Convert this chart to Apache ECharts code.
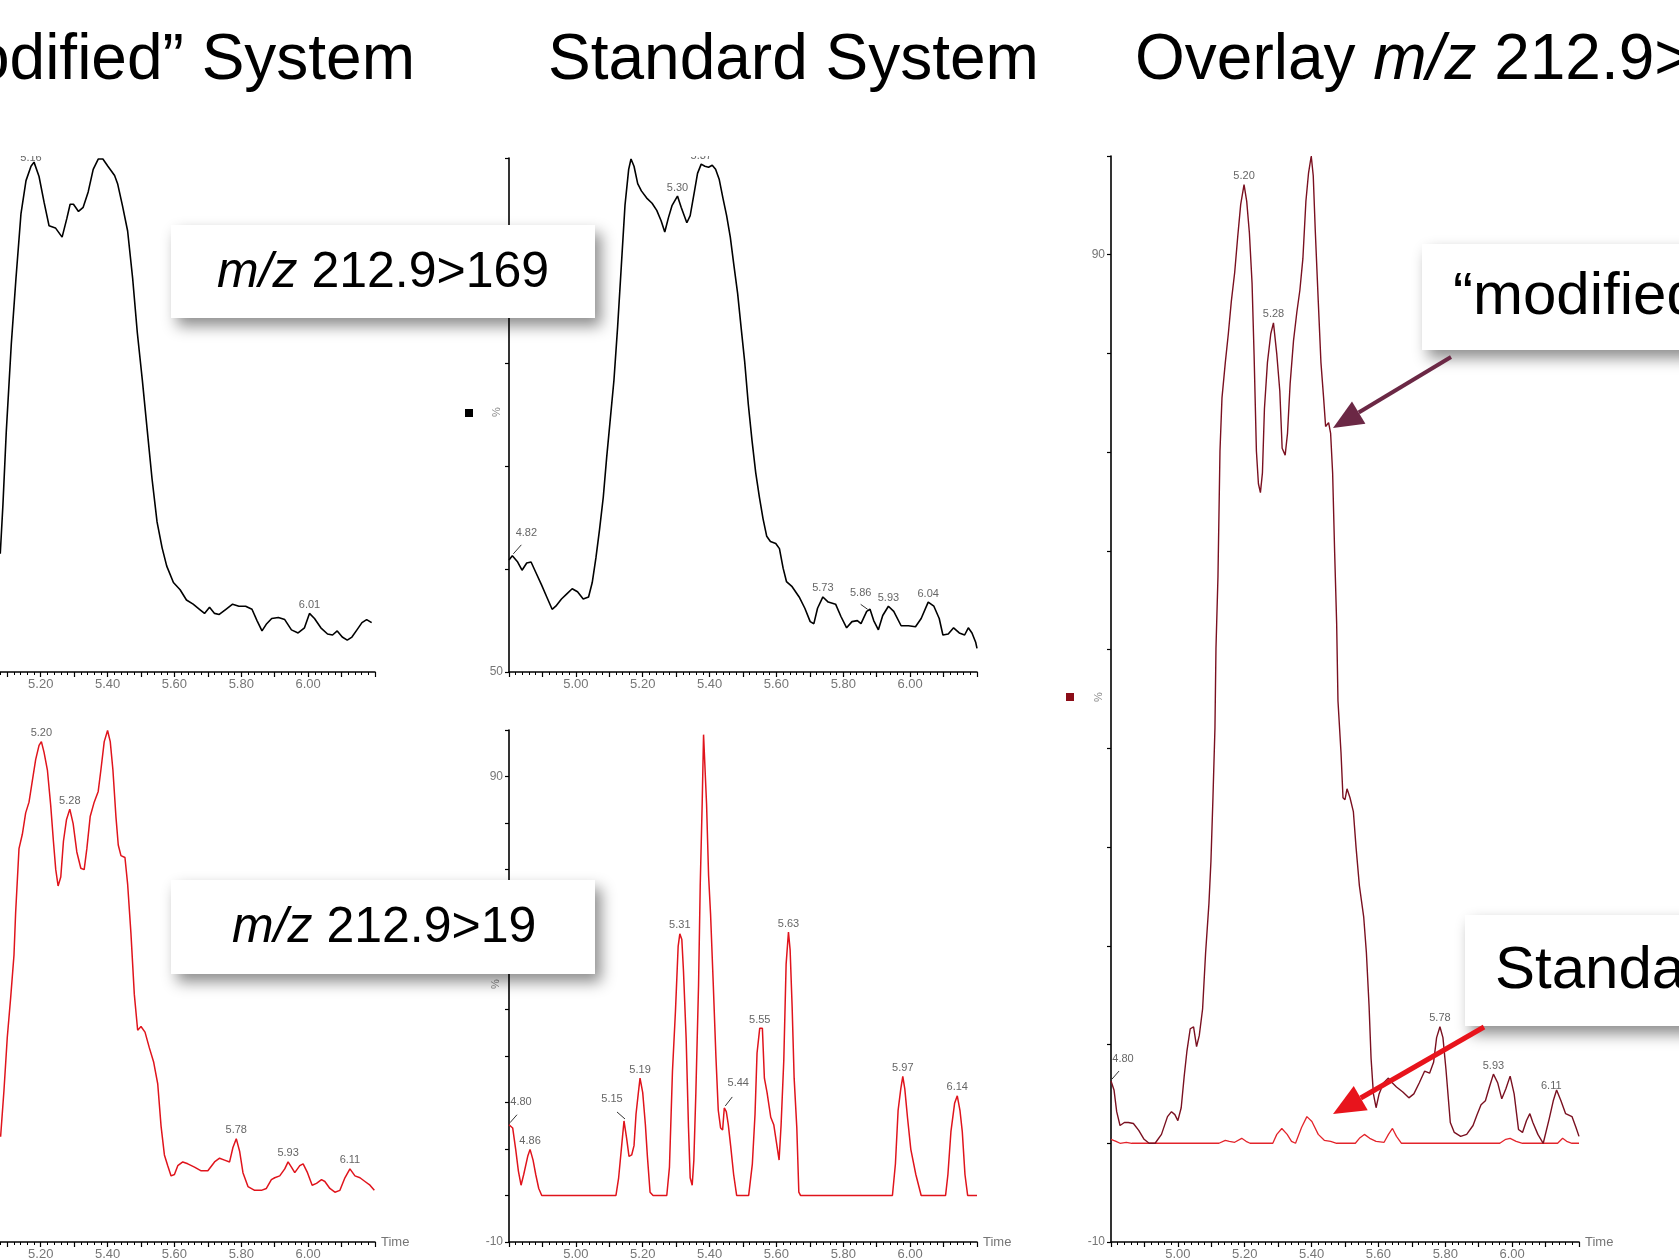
<!DOCTYPE html>
<html>
<head>
<meta charset="utf-8">
<title>Modified vs Standard System</title>
<script src="https://cdn.jsdelivr.net/npm/echarts@6/dist/echarts.min.js"></script>
<style>
  html, body { margin: 0; padding: 0; background: #fff; }
  #main { width: 1679px; height: 1259px; }
</style>
</head>
<body>
<div id="main"></div>
<script>
// ---- data (time in min, intensity in %) ----
// "modified" system, m/z 212.9>169 (top left)
var tlTime = [5.079,5.087,5.097,5.112,5.126,5.141,5.156,5.171,5.180,5.195,5.210,5.225,5.244,5.264,5.278,5.288,5.298,5.313,5.327,5.342,5.357,5.372,5.386,5.401,5.421,5.430,5.445,5.460,5.475,5.489,5.504,5.519,5.533,5.548,5.563,5.577,5.597,5.617,5.636,5.656,5.675,5.690,5.705,5.720,5.734,5.754,5.774,5.793,5.813,5.832,5.847,5.862,5.876,5.891,5.911,5.930,5.950,5.970,5.989,6.004,6.019,6.038,6.058,6.073,6.087,6.102,6.117,6.131,6.146,6.161,6.175,6.190];
var tlValue = [61.5,66.3,73.4,81.9,88.3,94.6,97.8,99.2,99.6,98.2,95.7,93.4,93.2,92.3,94.1,95.5,95.5,94.8,95.2,96.7,98.9,99.9,99.9,99.2,98.3,97.5,95.3,92.9,88.3,83.0,78.4,73.4,68.8,64.6,62.1,60.3,58.7,58.0,57.0,56.6,56.1,55.7,56.3,55.7,55.6,56.1,56.6,56.4,56.4,56.1,55.0,54.0,54.7,55.2,55.3,55.1,54.1,53.8,54.3,55.7,55.2,54.3,53.7,53.6,54.0,53.4,53.1,53.4,54.1,54.8,55.1,54.8];
var tlPeaks = ['5.16', '6.01'];

// standard system, m/z 212.9>169 (top middle)
var tmTime = [4.800,4.810,4.826,4.839,4.853,4.866,4.880,4.897,4.913,4.929,4.940,4.957,4.973,4.989,5.005,5.022,5.038,5.049,5.060,5.071,5.082,5.092,5.103,5.114,5.125,5.136,5.147,5.158,5.165,5.174,5.185,5.196,5.212,5.228,5.242,5.255,5.266,5.277,5.288,5.304,5.315,5.332,5.342,5.355,5.364,5.375,5.386,5.397,5.408,5.418,5.429,5.440,5.451,5.462,5.473,5.484,5.495,5.505,5.516,5.527,5.538,5.549,5.560,5.571,5.582,5.598,5.609,5.620,5.630,5.647,5.668,5.685,5.701,5.712,5.723,5.739,5.755,5.777,5.793,5.810,5.826,5.842,5.853,5.870,5.880,5.891,5.905,5.918,5.935,5.951,5.973,5.995,6.016,6.033,6.054,6.071,6.087,6.098,6.114,6.130,6.147,6.163,6.174,6.185,6.196,6.200];
var tmValue = [60.9,61.3,60.7,59.9,60.6,60.7,59.7,58.5,57.3,56.1,56.4,57.1,57.6,58.1,57.8,57.1,57.3,58.7,61.1,63.9,67.0,70.8,74.6,78.4,83.6,89.5,95.4,98.9,99.9,99.2,97.5,96.8,96.1,95.6,94.9,93.9,92.8,94.2,95.4,96.3,95.2,93.7,94.4,96.8,98.5,99.4,99.2,99.1,99.3,98.9,97.9,96.1,94.4,92.3,89.5,86.8,83.3,80.2,76.0,72.5,69.4,67.0,64.9,63.2,62.7,62.5,62.0,60.1,58.8,58.3,57.3,56.2,54.9,54.7,56.2,57.3,56.8,56.6,55.4,54.3,54.9,55.0,54.7,55.9,56.1,55.0,54.1,55.5,56.4,55.9,54.5,54.5,54.4,55.2,56.8,56.4,55.2,53.6,53.7,54.3,53.8,53.6,54.3,53.8,52.9,52.3];
var tmPeaks = ['4.82', '5.30', '5.37', '5.73', '5.86', '5.93', '6.04'];

// "modified" system, m/z 212.9>19 (bottom left)
var blTime = [5.080,5.090,5.100,5.110,5.120,5.125,5.135,5.145,5.155,5.165,5.175,5.185,5.195,5.202,5.210,5.220,5.230,5.238,5.245,5.252,5.260,5.268,5.277,5.287,5.297,5.308,5.320,5.330,5.338,5.348,5.360,5.372,5.380,5.390,5.400,5.408,5.416,5.425,5.432,5.440,5.452,5.460,5.470,5.480,5.490,5.500,5.512,5.525,5.538,5.550,5.560,5.570,5.580,5.590,5.600,5.610,5.625,5.640,5.660,5.680,5.700,5.720,5.735,5.750,5.765,5.775,5.785,5.795,5.805,5.820,5.840,5.860,5.875,5.890,5.900,5.915,5.930,5.940,5.950,5.960,5.975,5.985,5.998,6.012,6.025,6.040,6.050,6.065,6.080,6.095,6.110,6.125,6.140,6.155,6.170,6.185,6.198];
var blValue = [12.6,22.5,34.0,42.4,51.6,60.8,74.5,77.6,82.2,84.5,89.1,93.7,96.7,97.5,95.2,91.4,83.7,76.1,70.0,66.5,68.4,76.1,80.7,83.0,79.9,73.8,70.3,70.0,74.5,81.4,84.5,86.8,91.4,97.5,99.9,97.5,91.4,81.4,75.3,73.0,72.6,66.9,56.2,43.2,35.5,36.3,35.1,31.7,28.6,24.0,14.9,8.7,6.4,4.2,4.5,6.4,7.2,6.8,6.1,5.3,5.3,7.2,8.0,7.6,7.2,10.3,12.2,9.5,4.9,1.9,1.1,1.1,1.5,3.4,3.8,4.2,5.7,7.2,6.1,4.9,6.4,6.8,4.9,2.2,2.6,3.4,3.0,1.5,0.7,1.1,3.8,5.7,4.2,3.8,3.0,2.2,1.1];
var blPeaks = ['5.20', '5.28', '5.78', '5.93', '6.11'];

// standard system, m/z 212.9>19 (bottom middle)
var bmTime = [4.800,4.811,4.820,4.828,4.836,4.844,4.856,4.863,4.872,4.880,4.889,4.898,5.120,5.128,5.136,5.144,5.152,5.159,5.167,5.174,5.180,5.187,5.192,5.200,5.208,5.214,5.222,5.231,5.272,5.280,5.289,5.298,5.306,5.311,5.317,5.322,5.330,5.337,5.342,5.348,5.353,5.359,5.367,5.372,5.378,5.382,5.387,5.391,5.397,5.403,5.411,5.419,5.426,5.433,5.439,5.444,5.450,5.456,5.463,5.472,5.481,5.517,5.528,5.536,5.542,5.550,5.558,5.564,5.572,5.583,5.592,5.600,5.608,5.614,5.622,5.629,5.636,5.641,5.647,5.653,5.661,5.667,5.672,5.947,5.956,5.964,5.972,5.978,5.984,5.992,6.002,6.017,6.033,6.106,6.113,6.122,6.133,6.141,6.149,6.156,6.164,6.172,6.200];
var bmValue = [15.2,14.5,9.9,5.3,2.2,4.5,8.4,9.9,7.6,4.5,1.5,0,0,3.8,9.9,16.0,12.2,8.4,8.7,10.7,17.5,22.1,25.2,22.1,15.2,8.4,0.7,0,0,6.1,26.7,39.7,53.5,56.2,55.0,48.1,33.6,14.5,3.8,2.2,7.6,22.1,45.1,66.5,84.5,99.0,99.0,84.1,68.8,60.4,45.5,29.8,18.3,14.5,14.1,18.8,18.0,15.2,10.7,4.5,0,0,6.8,17.5,30.6,35.9,35.9,25.2,22.1,16.8,15.2,11.4,7.6,15.2,29.0,49.7,56.6,52.7,40.5,25.2,14.5,0.7,0,0,6.8,18.3,22.9,25.6,22.9,16.8,9.9,4.5,0,0,4.5,13.7,19.8,21.4,18.3,13.7,4.5,0,0];
var bmPeaks = ['4.80', '4.86', '5.15', '5.19', '5.31', '5.44', '5.55', '5.63', '5.97', '6.14'];

// overlay m/z 212.9>19 : modified (dark red) and standard (red)
var ovModTime = [4.800,4.809,4.817,4.827,4.840,4.852,4.867,4.883,4.899,4.914,4.932,4.951,4.969,4.981,4.991,5.000,5.010,5.019,5.027,5.037,5.047,5.056,5.064,5.074,5.083,5.093,5.099,5.105,5.111,5.114,5.120,5.126,5.132,5.142,5.151,5.160,5.170,5.179,5.188,5.198,5.206,5.214,5.222,5.228,5.235,5.241,5.247,5.253,5.259,5.268,5.278,5.286,5.296,5.305,5.312,5.321,5.328,5.336,5.346,5.356,5.365,5.374,5.383,5.391,5.399,5.405,5.411,5.420,5.428,5.436,5.442,5.451,5.457,5.463,5.469,5.475,5.479,5.488,5.494,5.500,5.506,5.515,5.525,5.533,5.543,5.556,5.564,5.572,5.578,5.585,5.593,5.602,5.615,5.630,5.642,5.654,5.673,5.691,5.706,5.722,5.738,5.753,5.765,5.774,5.784,5.793,5.802,5.815,5.827,5.846,5.864,5.883,5.895,5.907,5.920,5.932,5.944,5.957,5.969,5.981,5.994,6.006,6.019,6.031,6.043,6.053,6.062,6.077,6.093,6.111,6.123,6.133,6.146,6.160,6.179,6.191,6.200];
var ovModValue = [6.3,5.4,3.2,1.8,2.1,2.1,2.0,1.3,0.4,0,0,0.9,2.7,3.2,2.9,2.3,3.6,6.8,9.3,11.6,11.8,9.8,10.9,13.6,19.3,24.3,28.6,35.0,42.1,50.1,57.4,70.1,75.5,79.1,82.0,85.3,88.2,91.8,95.1,97.1,95.4,92.2,87.1,79.9,70.1,66.8,65.9,67.9,74.4,79.1,82.0,83.1,79.9,76.2,70.4,69.7,71.9,77.0,81.3,84.2,86.4,89.6,95.4,98.3,100.0,98.0,92.5,85.3,79.1,75.5,72.6,73.0,71.9,67.9,59.9,52.7,44.8,39.6,35.0,34.8,35.9,35.0,33.6,30.0,26.1,22.9,19.3,13.9,8.6,5.0,3.6,5.0,6.1,6.6,6.1,5.7,5.2,4.6,5.0,6.1,7.3,7.1,8.2,10.7,11.8,10.7,7.5,2.1,1.1,0.7,0.9,1.8,2.9,3.9,4.3,5.7,7.0,6.1,4.5,5.5,6.8,5.0,1.4,1.1,2.3,3.0,2.1,0.9,0,2.5,4.3,5.4,4.3,3.0,2.7,1.6,0.7];
var ovStdTime = [4.800,4.815,4.827,4.846,4.862,5.123,5.142,5.154,5.170,5.191,5.204,5.216,5.284,5.296,5.311,5.327,5.340,5.352,5.370,5.386,5.401,5.420,5.438,5.457,5.475,5.531,5.543,5.558,5.574,5.593,5.617,5.630,5.642,5.654,5.669,5.963,5.981,5.994,6.012,6.031,6.136,6.151,6.163,6.179,6.200];
var ovStdValue = [0.4,0.2,0,0.1,0,0,0.3,0.2,0.1,0.5,0.2,0,0,0.9,1.5,0.9,0.2,0,1.6,2.7,2.2,0.9,0.3,0.2,0,0,0.5,0.9,0.5,0.2,0.1,0.9,1.5,0.7,0,0,0.4,0.5,0.2,0,0,0.5,0.2,0,0];
var ovPeaks = ['4.80', '5.20', '5.28', '5.78', '5.93', '6.11'];

var FONT = '"Liberation Sans", Arial, sans-serif';
var GREY = '#767676';

function pairs(t, v) {
    return t.map(function (x, i) { return [x, v[i]]; });
}

// put a retention-time label on the highest point near that time
function peakMarks(times, vals, labels, offsets) {
    return labels.map(function (txt) {
        var t = parseFloat(txt), best = -1, i;
        for (i = 0; i < times.length; i++) {
            if (Math.abs(times[i] - t) <= 0.015 && (best < 0 || vals[i] > vals[best])) best = i;
        }
        if (best < 0) best = 0;
        var item = { name: txt, coord: [times[best], vals[best]] };
        if (offsets && offsets[txt]) item.label = { offset: offsets[txt] };
        return item;
    });
}

function xAxisFor(gi, withName) {
    return {
        type: 'value', gridIndex: gi, min: 4.8, max: 6.2, interval: 0.1,
        axisLine: { onZero: false, lineStyle: { color: '#000', width: 1.6 } },
        axisTick: { show: true, length: 5, lineStyle: { color: '#000', width: 1.2 } },
        minorTick: { show: true, splitNumber: 5, length: 3, lineStyle: { color: '#000', width: 1 } },
        splitLine: { show: false },
        minorSplitLine: { show: false },
        axisLabel: {
            color: GREY, fontSize: 13, fontFamily: FONT, margin: 6,
            formatter: function (v) {
                var k = Math.round(v * 10);
                return (k % 2 === 0 && k > 48 && k < 62) ? (k / 10).toFixed(2) : '';
            }
        },
        name: withName ? 'Time' : '', nameLocation: 'end', nameGap: 6,
        nameTextStyle: { color: GREY, fontSize: 13, fontFamily: FONT, verticalAlign: 'middle' }
    };
}

function yAxisFor(gi, min, max, shown, labels) {
    return {
        type: 'value', gridIndex: gi, min: min, max: max, interval: 10, show: shown,
        axisLine: { show: true, onZero: false, lineStyle: { color: '#000', width: 1.6 } },
        axisTick: { show: true, length: 4, lineStyle: { color: '#000', width: 1.2 } },
        splitLine: { show: false },
        axisLabel: {
            color: GREY, fontSize: 12, fontFamily: FONT, margin: 6,
            formatter: function (v) {
                var r = Math.round(v);
                return labels.indexOf(r) >= 0 ? String(r) : '';
            }
        }
    };
}

function trace(gi, times, vals, color, width, peaks, offsets) {
    return {
        type: 'line', xAxisIndex: gi, yAxisIndex: gi,
        data: pairs(times, vals),
        showSymbol: false, symbol: 'none', silent: true,
        lineStyle: { color: color, width: width },
        markPoint: peaks ? {
            symbol: 'circle', symbolSize: 2, silent: true, animation: false,
            itemStyle: { color: 'rgba(0,0,0,0)' },
            label: { show: true, position: 'top', distance: 2, color: '#666', fontSize: 11, fontFamily: FONT, formatter: '{b}' },
            data: peakMarks(times, vals, peaks, offsets)
        } : undefined
    };
}

function arrow(x1, y1, x2, y2, color, w, headLen, headHalf) {
    var dx = x2 - x1, dy = y2 - y1, L = Math.sqrt(dx * dx + dy * dy);
    var ux = dx / L, uy = dy / L;
    var bx = x2 - ux * headLen, by = y2 - uy * headLen;
    return [
        { type: 'line', z: 80, shape: { x1: x1, y1: y1, x2: bx, y2: by }, style: { stroke: color, lineWidth: w } },
        { type: 'polygon', z: 80, shape: { points: [[x2, y2], [bx - uy * headHalf, by + ux * headHalf], [bx + uy * headHalf, by - ux * headHalf]] }, style: { fill: color } }
    ];
}

function box(x, y, w, h, tx, ty, text, size) {
    return [
        { type: 'rect', z: 70, shape: { x: x, y: y, width: w, height: h },
          style: { fill: '#fff', shadowBlur: 14, shadowOffsetX: 6, shadowOffsetY: 8, shadowColor: 'rgba(0,0,0,0.45)' } },
        { type: 'text', z: 71, x: tx, y: ty,
          style: { text: text, fill: '#000', fontSize: size, fontFamily: FONT, verticalAlign: 'middle',
                   rich: { i: { fontStyle: 'italic', fontSize: size, fontFamily: FONT, fill: '#000' } } } }
    ];
}

function title(x, y, text, align) {
    return { type: 'text', z: 60, x: x, y: y,
        style: { text: text, fill: '#000', fontSize: 64, fontFamily: FONT, align: align, verticalAlign: 'middle',
                 rich: { i: { fontStyle: 'italic', fontSize: 64, fontFamily: FONT, fill: '#000' } } } };
}

function pct(x, y) {
    return { type: 'text', z: 60, x: x, y: y, rotation: Math.PI / 2,
        style: { text: '%', fill: '#888', fontSize: 11, fontFamily: FONT, align: 'center', verticalAlign: 'middle' } };
}

var chart = echarts.init(document.getElementById('main'), null, { renderer: 'canvas' });

var graphics = [
    // the chromatogram screenshots are cut at the top
    { type: 'rect', z: 50, shape: { x: 0, y: 108, width: 1000, height: 48 }, style: { fill: '#fff' } },
    title(415, 61, '“Modified” System', 'right'),
    title(548, 61, 'Standard System', 'left'),
    title(1135, 61, 'Overlay {i|m/z} 212.9>169', 'left'),
    { type: 'rect', z: 60, shape: { x: 465, y: 409, width: 8, height: 8 }, style: { fill: '#000' } },
    pct(497, 412),
    pct(496, 984),
    { type: 'rect', z: 60, shape: { x: 1066, y: 693, width: 8, height: 8 }, style: { fill: '#8b0d17' } },
    pct(1099, 697)
];
graphics = graphics
    .concat(box(171, 225, 424, 93, 217, 273, '{i|m/z} 212.9>169', 50))
    .concat(box(171, 880, 424, 94, 232, 928, '{i|m/z} 212.9>19', 50))
    .concat(box(1422, 244, 300, 106, 1453, 297, '“modified”', 60))
    .concat(box(1465, 915, 260, 111, 1495, 971, 'Standard', 60))
    .concat(arrow(1451, 357, 1333, 428, '#6b2845', 4, 30, 13))
    .concat(arrow(1484, 1027, 1333, 1114, '#e8141c', 5, 32, 14));

// the left-hand chromatograms are cut off by the slide edge, so their grids start off-canvas
function gridAt(left, top, width, height) {
    return { left: left, top: top, width: width, height: height, containLabel: false, outerBoundsMode: 'none' };
}

var option = {
    backgroundColor: '#fff',
    animation: false,
    grid: [
        gridAt(-93, 158, 468, 514),
        gridAt(509, 158, 468, 514),
        gridAt(-93, 730, 468, 512),
        gridAt(509, 730, 468, 512),
        gridAt(1111, 156, 468, 1086)
    ],
    xAxis: [xAxisFor(0, false), xAxisFor(1, false), xAxisFor(2, true), xAxisFor(3, true), xAxisFor(4, true)],
    yAxis: [
        yAxisFor(0, 50, 100, false, []),
        yAxisFor(1, 50, 100, true, [50]),
        yAxisFor(2, -10, 100, false, []),
        yAxisFor(3, -10, 100, true, [90, -10]),
        yAxisFor(4, -10, 100, true, [90, -10])
    ],
    series: [
        trace(0, tlTime, tlValue, '#000', 1.6, tlPeaks),
        trace(1, tmTime, tmValue, '#000', 1.6, tmPeaks, { '4.82': [14, -14], '5.86': [-6, -10] }),
        trace(2, blTime, blValue, '#e0141c', 1.5, blPeaks),
        trace(3, bmTime, bmValue, '#e0141c', 1.5, bmPeaks, { '4.80': [12, -14], '5.15': [-12, -14], '5.44': [14, -16] }),
        trace(4, ovStdTime, ovStdValue, '#e3242b', 1.3, null),
        trace(4, ovModTime, ovModValue, '#7a1020', 1.4, ovPeaks, { '4.80': [12, -14], '6.11': [-2, -6] })
    ],
    graphic: graphics
};

chart.setOption(option);

// short leader ticks from a peak to its shifted label
var leaderDefs = [
    { gi: 1, times: tmTime, vals: tmValue, label: '4.82', dx: 9, dy: -11 },
    { gi: 1, times: tmTime, vals: tmValue, label: '5.86', dx: -6, dy: -7 },
    { gi: 3, times: bmTime, vals: bmValue, label: '4.80', dx: 8, dy: -10 },
    { gi: 3, times: bmTime, vals: bmValue, label: '5.15', dx: -7, dy: -9 },
    { gi: 3, times: bmTime, vals: bmValue, label: '5.44', dx: 8, dy: -11 },
    { gi: 4, times: ovModTime, vals: ovModValue, label: '4.80', dx: 8, dy: -10 }
];
var leaders = leaderDefs.map(function (d) {
    var m = peakMarks(d.times, d.vals, [d.label])[0];
    var p = chart.convertToPixel({ gridIndex: d.gi }, m.coord);
    return { type: 'line', z: 60, shape: { x1: p[0] + 1, y1: p[1] - 2, x2: p[0] + d.dx, y2: p[1] + d.dy },
             style: { stroke: '#333', lineWidth: 1 } };
});
chart.setOption({ graphic: graphics.concat(leaders) });
</script>
</body>
</html>
